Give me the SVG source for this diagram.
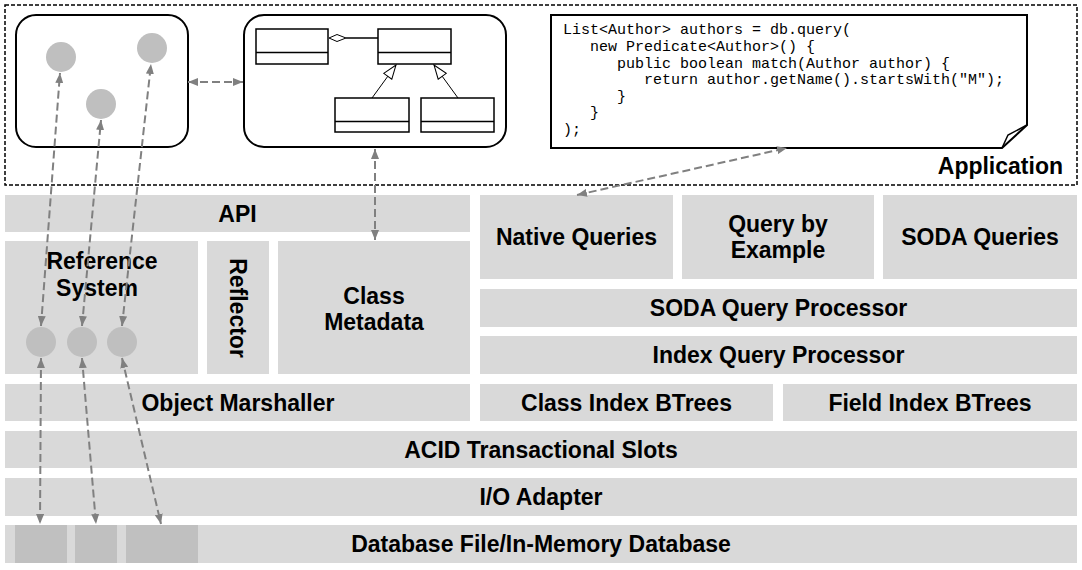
<svg xmlns="http://www.w3.org/2000/svg" width="1082" height="570" viewBox="0 0 1082 570">
<defs>
<style>
.bar{fill:#d9d9d9}
.dk{fill:#c0c0c0}
.lbl{font-family:"Liberation Sans",Arial,sans-serif;font-weight:bold;font-size:23px;fill:#000;text-anchor:middle}
.code{font-family:"Liberation Mono","Courier New",monospace;font-size:15px;fill:#000}
.rbox{fill:#fff;stroke:#000;stroke-width:2}
.cls{fill:#fff;stroke:#000;stroke-width:1.5}
.dot{fill:#bfbfbf}
.conn{stroke:#808080;stroke-width:2;stroke-dasharray:8,4;fill:none;marker-start:url(#ah);marker-end:url(#ah)}
.inh{stroke:#000;stroke-width:1;fill:none;marker-end:url(#tri)}
</style>
<marker id="ah" viewBox="0 0 10 8" refX="10" refY="4" markerWidth="10" markerHeight="8" markerUnits="userSpaceOnUse" orient="auto-start-reverse">
<path d="M0,0 L10,4 L0,8 z" fill="#808080"/>
</marker>
<marker id="tri" viewBox="0 0 16 12" refX="15" refY="6" markerWidth="16" markerHeight="12" markerUnits="userSpaceOnUse" orient="auto">
<path d="M1,1 L15,6 L1,11 z" fill="#fff" stroke="#000" stroke-width="1"/>
</marker>
</defs>
<rect width="1082" height="570" fill="#fff"/>

<g id="application">
<rect x="5" y="5" width="1072" height="180" fill="none" stroke="#000" stroke-width="1.5" stroke-dasharray="4,2"/>
<text class="lbl" x="1063" y="174" style="text-anchor:end">Application</text>
</g>

<g id="object-graph">
<rect class="rbox" x="16" y="15" width="172" height="132" rx="20"/>
<circle class="dot" cx="61" cy="57" r="15"/>
<circle class="dot" cx="152" cy="48" r="15"/>
<circle class="dot" cx="101" cy="104" r="15"/>
</g>

<g id="class-model">
<rect class="rbox" x="244" y="15" width="262" height="132" rx="20"/>
<rect class="cls" x="256" y="29" width="72" height="35"/>
<line x1="256" y1="52.5" x2="328" y2="52.5" stroke="#000" stroke-width="1.5"/>
<rect class="cls" x="378" y="29" width="73" height="35"/>
<line x1="378" y1="52.5" x2="451" y2="52.5" stroke="#000" stroke-width="1.5"/>
<rect class="cls" x="335" y="98" width="74" height="34"/>
<line x1="335" y1="121.5" x2="409" y2="121.5" stroke="#000" stroke-width="1.5"/>
<rect class="cls" x="421" y="98" width="73" height="34"/>
<line x1="421" y1="121.5" x2="494" y2="121.5" stroke="#000" stroke-width="1.5"/>
<path d="M329,38 L337,34.5 L346,38 L337,41.5 z" fill="#fff" stroke="#000" stroke-width="1"/>
<line x1="346" y1="38" x2="378" y2="38" stroke="#000" stroke-width="1.5"/>
<line class="inh" x1="372" y1="98" x2="396" y2="65"/>
<line class="inh" x1="458" y1="98" x2="434" y2="65"/>
</g>

<g id="code">
<path d="M551,15 H1027 V125 L1002,148 H551 Z" fill="#fff" stroke="#000" stroke-width="2"/>
<path d="M1002,148 L1008,135 L1027,125" fill="none" stroke="#000" stroke-width="1.5"/>
<text class="code" x="563" y="34">List&lt;Author&gt; authors = db.query(</text>
<text class="code" x="590" y="51">new Predicate&lt;Author&gt;() {</text>
<text class="code" x="617" y="67.5">public boolean match(Author author) {</text>
<text class="code" x="644" y="84">return author.getName().startsWith("M");</text>
<text class="code" x="617" y="100.5">}</text>
<text class="code" x="590" y="117">}</text>
<text class="code" x="563" y="133.5">);</text>
</g>

<g id="api"><rect class="bar" x="5" y="195" width="465" height="37"/><text class="lbl" x="237.5" y="222">API</text></g>
<g id="native-queries"><rect class="bar" x="480" y="195" width="193" height="84"/><text class="lbl" x="576.5" y="245">Native Queries</text></g>
<g id="query-by-example"><rect class="bar" x="682" y="195" width="192" height="84"/><text class="lbl" x="778" y="232">Query by</text><text class="lbl" x="778" y="258">Example</text></g>
<g id="soda-queries"><rect class="bar" x="883" y="195" width="194" height="84"/><text class="lbl" x="980" y="245">SODA Queries</text></g>
<g id="reference-system"><rect class="bar" x="5" y="241" width="193" height="133"/><text class="lbl" x="102" y="269">Reference</text><text class="lbl" x="97" y="296">System</text></g>
<g id="reflector"><rect class="bar" x="207" y="241" width="62" height="133"/><text class="lbl" x="0" y="0" transform="translate(230,308) rotate(90)">Reflector</text></g>
<g id="class-metadata"><rect class="bar" x="278" y="241" width="192" height="133"/><text class="lbl" x="374" y="304">Class</text><text class="lbl" x="374" y="330">Metadata</text></g>
<g id="soda-query-processor"><rect class="bar" x="480" y="289" width="597" height="38"/><text class="lbl" x="778.5" y="316">SODA Query Processor</text></g>
<g id="index-query-processor"><rect class="bar" x="480" y="336" width="597" height="38"/><text class="lbl" x="778.5" y="363">Index Query Processor</text></g>
<g id="object-marshaller"><rect class="bar" x="5" y="384" width="465" height="37"/><text class="lbl" x="238" y="411">Object Marshaller</text></g>
<g id="class-index-btrees"><rect class="bar" x="480" y="384" width="293" height="37"/><text class="lbl" x="626.5" y="411">Class Index BTrees</text></g>
<g id="field-index-btrees"><rect class="bar" x="783" y="384" width="294" height="37"/><text class="lbl" x="930" y="411">Field Index BTrees</text></g>
<g id="acid-slots"><rect class="bar" x="5" y="431" width="1072" height="37"/><text class="lbl" x="541" y="458">ACID Transactional Slots</text></g>
<g id="io-adapter"><rect class="bar" x="5" y="478" width="1072" height="38"/><text class="lbl" x="541" y="505">I/O Adapter</text></g>
<g id="database"><rect class="bar" x="5" y="525" width="1072" height="38"/>
<rect class="dk" x="15" y="525" width="52" height="38"/>
<rect class="dk" x="75" y="525" width="42" height="38"/>
<rect class="dk" x="126" y="525" width="72" height="38"/>
<text class="lbl" x="541" y="552">Database File/In-Memory Database</text></g>

<g id="ref-objects">
<circle class="dot" cx="41" cy="342" r="15"/>
<circle class="dot" cx="82" cy="342" r="15"/>
<circle class="dot" cx="122" cy="342" r="15"/>
</g>

<g id="connectors">
<line class="conn" x1="188" y1="82" x2="243" y2="82"/>
<line class="conn" x1="375" y1="149" x2="375" y2="240"/>
<line class="conn" x1="577" y1="195" x2="787" y2="148"/>
<line class="conn" x1="41" y1="326" x2="60" y2="73"/>
<line class="conn" x1="82" y1="326" x2="101" y2="120"/>
<line class="conn" x1="122" y1="326" x2="151" y2="64"/>
<line class="conn" x1="41" y1="358" x2="40" y2="524"/>
<line class="conn" x1="82" y1="358" x2="96" y2="524"/>
<line class="conn" x1="122" y1="358" x2="161" y2="524"/>
</g>
</svg>
